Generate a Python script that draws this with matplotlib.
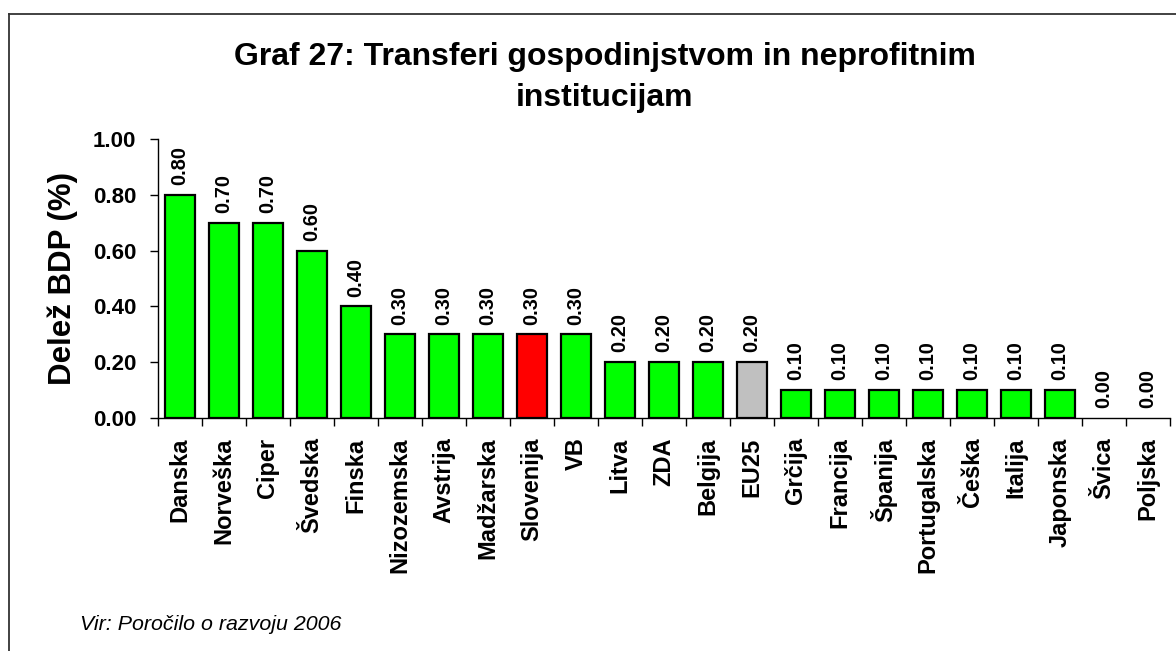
import matplotlib
matplotlib.use("Agg")
from matplotlib import pyplot as plt
from matplotlib.lines import Line2D
import numpy as np

countries = ["Danska", "Norveška", "Ciper", "Švedska", "Finska", "Nizozemska",
             "Avstrija", "Madžarska", "Slovenija", "VB", "Litva", "ZDA", "Belgija",
             "EU25", "Grčija", "Francija", "Španija", "Portugalska", "Češka",
             "Italija", "Japonska", "Švica", "Poljska"]
values = [0.80, 0.70, 0.70, 0.60, 0.40, 0.30, 0.30, 0.30, 0.30, 0.30, 0.20, 0.20,
          0.20, 0.20, 0.10, 0.10, 0.10, 0.10, 0.10, 0.10, 0.10, 0.00, 0.00]
yticks = [0.0, 0.2, 0.4, 0.6, 0.8, 1.0]

title_lines = ["Graf 27: Transferi gospodinjstvom in neprofitnim", "institucijam"]
ylabel = "Delež BDP (%)"
source = "Vir: Poročilo o razvoju 2006"

plt.rcParams["font.family"] = ["Liberation Sans", "DejaVu Sans"]

W, H = 1176, 651
fig = plt.figure(figsize=(W / 100, H / 100), dpi=100)
ax = fig.add_axes([158 / W, 1 - 418 / H, (1170 - 158) / W, (418 - 139) / H])

def bar_color(name):
    if name == "Slovenija":
        return "#FF0000"
    if name == "EU25":
        return "#C0C0C0"
    return "#00FF00"

x = np.arange(len(countries))
colors = [bar_color(c) for c in countries]
bars = ax.bar(x, values, width=0.66, color=colors, edgecolor="black", linewidth=1.6, zorder=3)

for b, v in zip(bars, values):
    if v == 0:
        b.set_visible(False)
    ax.annotate("%.2f" % v, (b.get_x() + b.get_width() / 2, v), xytext=(0, 7),
                textcoords="offset points", ha="center", va="bottom", rotation=90,
                fontsize=14.4, fontweight="bold")

ax.set_xlim(-0.5, len(countries) - 0.5)
ax.set_ylim(0, 1.0)
ax.set_yticks(yticks)
ax.set_yticklabels(["%.2f" % t for t in yticks], fontsize=16, fontweight="bold")
ax.tick_params(axis="y", direction="out", length=5.5, width=1, pad=10)

ax.set_xticks(x)
ax.set_xticklabels(countries, rotation=90, fontsize=17, fontweight="bold")
ax.tick_params(axis="x", which="major", length=0, pad=14)
ax.set_xticks(np.arange(len(countries) + 1) - 0.5, minor=True)
ax.tick_params(axis="x", which="minor", direction="out", length=5.5, width=1)

for s in ["top", "right"]:
    ax.spines[s].set_visible(False)
for s in ["left", "bottom"]:
    ax.spines[s].set_linewidth(1)

ax.set_ylabel(ylabel, fontsize=22.5, fontweight="bold")
ax.yaxis.set_label_coords((78 - 158) / (1170 - 158), 0.5)

fig.text(605 / W, 1 - 57 / H, title_lines[0], ha="center", va="center",
         fontsize=23, fontweight="bold")
fig.text(605 / W, 1 - 98 / H, title_lines[1], ha="center", va="center",
         fontsize=23, fontweight="bold")

fig.text(80 / W, 1 - 624 / H, source, ha="left", va="center", fontsize=15.4,
         fontstyle="italic")

# outer frame (only top and left edges visible in the crop)
fig.add_artist(Line2D([8.5 / W, 1.0], [1 - 14 / H, 1 - 14 / H], color="#333333",
                      linewidth=1.3, transform=fig.transFigure))
fig.add_artist(Line2D([8.5 / W, 8.5 / W], [0.0, 1 - 14 / H], color="#333333",
                      linewidth=1.3, transform=fig.transFigure))

fig.savefig("out.png", dpi=100)
